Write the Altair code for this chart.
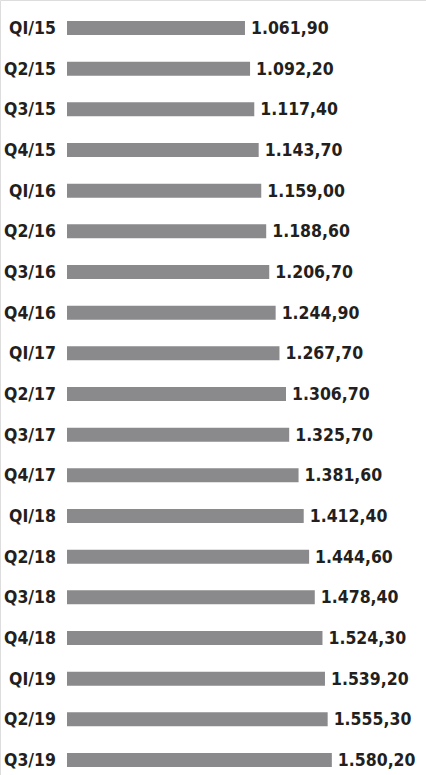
import altair as alt
import pandas as pd

quarters = ["QI/15", "Q2/15", "Q3/15", "Q4/15", "QI/16", "Q2/16", "Q3/16", "Q4/16",
            "QI/17", "Q2/17", "Q3/17", "Q4/17", "QI/18", "Q2/18", "Q3/18", "Q4/18",
            "QI/19", "Q2/19", "Q3/19"]
values = [1061.90, 1092.20, 1117.40, 1143.70, 1159.00, 1188.60, 1206.70, 1244.90,
          1267.70, 1306.70, 1325.70, 1381.60, 1412.40, 1444.60, 1478.40, 1524.30,
          1539.20, 1555.30, 1580.20]
value_labels = ["1.061,90", "1.092,20", "1.117,40", "1.143,70", "1.159,00", "1.188,60",
                "1.206,70", "1.244,90", "1.267,70", "1.306,70", "1.325,70", "1.381,60",
                "1.412,40", "1.444,60", "1.478,40", "1.524,30", "1.539,20", "1.555,30",
                "1.580,20"]

df = pd.DataFrame({"q": quarters, "v": values, "lab": value_labels})

FONT = "'Liberation Sans Narrow', 'Noto Sans Condensed', 'DejaVu Sans Condensed', sans-serif"
TXT = "#231f20"
FS = 17.5

y = alt.Y("q:O", sort=quarters, title=None,
          scale=alt.Scale(type="point", range=[28, 760], padding=0), axis=None)
x = alt.X("v:Q", title=None,
          scale=alt.Scale(domain=[0, 2142], range=[67, 426], nice=False, zero=True),
          axis=None)

bars = alt.Chart(df).mark_bar(color="#8a8a8d", height=14).encode(x=x, y=y)
text = alt.Chart(df).mark_text(align="left", baseline="alphabetic", dx=6, dy=6,
                               font=FONT, fontSize=FS, fontWeight="bold",
                               color=TXT).encode(x=x, y=y, text="lab:N")
cats = alt.Chart(df).mark_text(align="right", baseline="alphabetic", dy=6,
                               font=FONT, fontSize=FS, fontWeight="bold",
                               color=TXT).encode(x=alt.value(56), y=y, text="q:N")

chart = (bars + text + cats).properties(
    width=426, height=775,
    autosize=alt.AutoSizeParams(type="none"),
    padding=0,
).configure_view(stroke=None, strokeWidth=0).configure(background="white")

chart.save("out.html", embed_options={"renderer": "svg", "actions": False})
